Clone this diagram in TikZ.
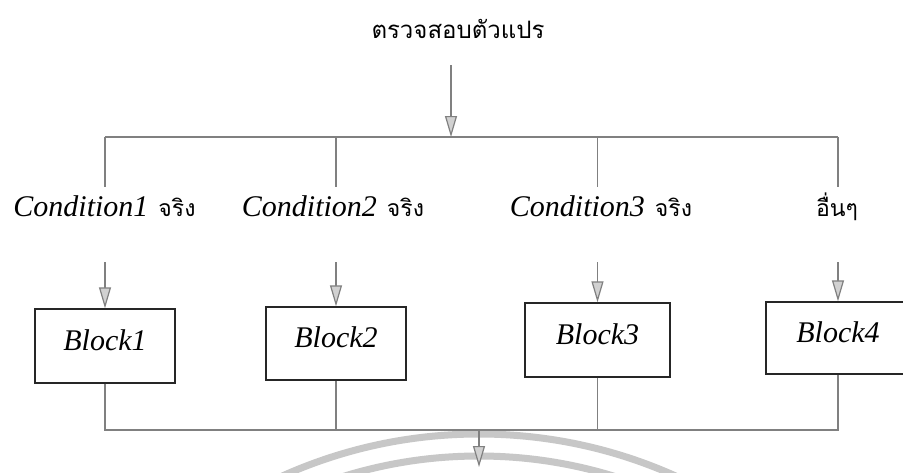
\documentclass[tikz,border=0pt]{standalone}
\usepackage{fontspec}
\setmainfont{Liberation Serif}
\newfontfamily\thaifont[Script=Thai]{Loma}
\newfontfamily\latit{Liberation Serif Italic}
\usetikzlibrary{arrows.meta}
\tikzset{
  conn/.style={draw=black!50, line width=1.2pt},
  arr/.style={conn, -{Triangle[length=21pt,width=12pt,fill=black!18]}},
  blockbox/.style={draw=black!85, line width=1.4pt, rectangle, inner sep=0pt,
    text height=22pt, text depth=14pt, font=\latit\fontsize{30}{34}\selectfont},
  condtext/.style={anchor=base, inner sep=0pt, text height=21pt, text depth=6pt},
  wm/.style={draw=black!22, line width=7pt}
}
\newcommand{\thcond}[1]{{\thaifont\fontsize{23}{27}\selectfont #1}}
\newcommand{\latcond}[1]{{\latit\fontsize{30}{34}\selectfont #1}}
\begin{document}
\begin{tikzpicture}[x=1pt,y=-1pt]
\clip (0,0) rectangle (903,472);
\fill[white] (0,0) rectangle (903,472);
% watermark arcs
\draw[wm] (479,914) circle[radius=480];
\draw[wm] (479,914) circle[radius=458];
% title
\node[anchor=base, inner sep=0pt, text depth=0pt, font=\thaifont\fontsize{24}{28}\selectfont] (t) at (458,38) {ตรวจสอบตัวแปร};
\coordinate (bar) at (451,137);
% conditions
\node[condtext] (c1) at (104.5,216) {\latcond{Condition1}\hspace{10pt}\thcond{จริง}};
\node[condtext] (c2) at (333,216) {\latcond{Condition2}\hspace{10pt}\thcond{จริง}};
\node[condtext] (c3) at (601,216) {\latcond{Condition3}\hspace{10pt}\thcond{จริง}};
\node[condtext] (c4) at (837,216) {\thcond{อื่นๆ}};
% blocks
\node[blockbox, minimum width=140pt, minimum height=74pt] (b1) at (105,346) {Block1};
\node[blockbox, minimum width=140pt, minimum height=73pt] (b2) at (336,343.5) {Block2};
\node[blockbox, minimum width=145pt, minimum height=74pt] (b3) at (597.5,340) {Block3};
\node[blockbox, minimum width=144pt, minimum height=72pt] (b4) at (838,338) {Block4};
\coordinate (jb) at (479,430);
\coordinate (fin) at (479,467);
% top arrow and bar
\draw[arr, shorten <=27pt] (t.south -| bar) -- (bar);
\draw[conn] (b1 |- bar) -- (b4 |- bar);
\draw[conn, shorten >=8pt] (b1 |- bar) -- (b1 |- c1.north);
\draw[conn, shorten >=8pt] (b2 |- bar) -- (b2 |- c2.north);
\draw[conn, shorten >=8pt] (b3 |- bar) -- (b3 |- c3.north);
\draw[conn, shorten >=8pt] (b4 |- bar) -- (b4 |- c4.north);
% condition to block arrows
\draw[arr, shorten <=40pt] (b1 |- c1.south) -- (b1);
\draw[arr, shorten <=40pt] (b2 |- c2.south) -- (b2);
\draw[arr, shorten <=40pt] (b3 |- c3.south) -- (b3);
\draw[arr, shorten <=40pt] (b4 |- c4.south) -- (b4);
% merge
\draw[conn] (b1) |- (jb) -| (b4);
\draw[conn] (b2) -- (b2 |- jb);
\draw[conn] (b3) -- (b3 |- jb);
\draw[arr] (jb) -- (fin);
\end{tikzpicture}
\end{document}
